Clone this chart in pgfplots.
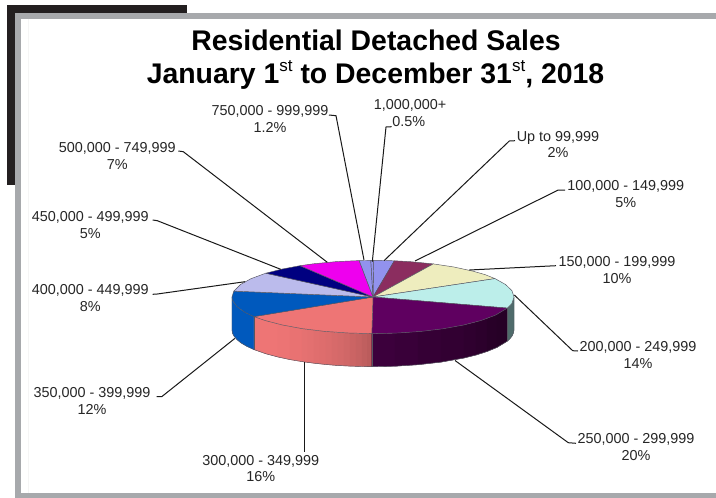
\documentclass[border=0pt]{standalone}
\usepackage{pgfplots}
\pgfplotsset{compat=1.18}
\usepackage{fontspec}
\setmainfont{Liberation Sans}
% slice colours, top faces
\definecolor{cLav}{HTML}{9292EE}
\definecolor{cMaroon}{HTML}{8B2D5F}
\definecolor{cCream}{HTML}{EEEDBE}
\definecolor{cAqua}{HTML}{BCEEEA}
\definecolor{cPlum}{HTML}{5F0060}
\definecolor{cSalmon}{HTML}{EE7575}
\definecolor{cBlue}{HTML}{0059BD}
\definecolor{cPeri}{HTML}{BBBBEC}
\definecolor{cNavy}{HTML}{000080}
\definecolor{cMagenta}{HTML}{EE00EE}
% side wall colours
\definecolor{cSalmonDark}{HTML}{B85B5B}
\definecolor{cPlumA}{HTML}{3C003C}
\definecolor{cPlumB}{HTML}{260026}
\definecolor{cTeal}{HTML}{4F6B6B}
% frame and text
\definecolor{cFrame}{HTML}{A7A9AC}
\definecolor{cBlock}{HTML}{231F20}
\definecolor{cText}{HTML}{262626}
\definecolor{cEdge}{HTML}{555560}
\begin{document}
\begin{tikzpicture}[
  lbl/.style={anchor=base,inner sep=0pt,text=cText,font=\fontsize{14.4bp}{17bp}\selectfont},
  ttl/.style={anchor=base,inner sep=0pt,text=black,font=\fontsize{28.4bp}{32bp}\selectfont\bfseries},
  top/.style={fill=#1,draw=cEdge,line width=0.45bp,line join=round},
  wall/.style={fill=#1,draw=#1,line width=0.3bp},
  leader/.style={draw=black!90,line width=1bp,line join=round}
]
\begin{axis}[
  width=716bp,height=498bp,scale only axis,
  xmin=0,xmax=716,ymin=0,ymax=498,y dir=reverse,
  hide axis,clip=false
]
% page background and frame
\fill[white] (axis cs:0,0) rectangle (axis cs:716,498);
\fill[cBlock] (axis cs:7,5) rectangle (axis cs:187,185);
\fill[white] (axis cs:15,13) rectangle (axis cs:716,498);
\fill[cFrame] (axis cs:15.3,13) rectangle (axis cs:716,18.7);
\fill[cFrame] (axis cs:15.3,13) rectangle (axis cs:20.7,498);
\fill[cFrame] (axis cs:15.3,493) rectangle (axis cs:716,498);
\draw[black!4,line width=0.6bp] (axis cs:28.3,19) -- (axis cs:28.3,493);

% side wall: 350,000 - 399,999
\addplot[wall=cBlue] coordinates {(232,297)(232.5,300.2)(234,303.1)(237,306.6)(241,309.9)(247,313.4)(254,316.6)(254,349.6)(247,346.4)(241,342.9)(237,339.6)(234,336.1)(232.5,333.2)(232,330)} --cycle;
% side wall: 300,000 - 349,999, darkening to the right
\addplot[wall=cSalmon] coordinates {(254,316.6)(266,320.8)(266,353.8)(254,349.6)} --cycle;
\addplot[wall=cSalmon] coordinates {(266,320.8)(278,324.0)(278,357.0)(266,353.8)} --cycle;
\addplot[wall=cSalmon!96!cSalmonDark] coordinates {(278,324.0)(290,326.6)(290,359.6)(278,357.0)} --cycle;
\addplot[wall=cSalmon!90!cSalmonDark] coordinates {(290,326.6)(302,328.6)(302,361.6)(290,359.6)} --cycle;
\addplot[wall=cSalmon!84!cSalmonDark] coordinates {(302,328.6)(308,329.5)(308,362.5)(302,361.6)} --cycle;
\addplot[wall=cSalmon!80!cSalmonDark] coordinates {(308,329.5)(314,330.2)(314,363.2)(308,362.5)} --cycle;
\addplot[wall=cSalmon!75!cSalmonDark] coordinates {(314,330.2)(320,330.9)(320,363.9)(314,363.2)} --cycle;
\addplot[wall=cSalmon!70!cSalmonDark] coordinates {(320,330.9)(326,331.5)(326,364.5)(320,363.9)} --cycle;
\addplot[wall=cSalmon!64!cSalmonDark] coordinates {(326,331.5)(332,332.0)(332,365.0)(326,364.5)} --cycle;
\addplot[wall=cSalmon!58!cSalmonDark] coordinates {(332,332.0)(338,332.5)(338,365.5)(332,365.0)} --cycle;
\addplot[wall=cSalmon!52!cSalmonDark] coordinates {(338,332.5)(344,332.8)(344,365.8)(338,365.5)} --cycle;
\addplot[wall=cSalmon!45!cSalmonDark] coordinates {(344,332.8)(350,333.1)(350,366.1)(344,365.8)} --cycle;
\addplot[wall=cSalmon!36!cSalmonDark] coordinates {(350,333.1)(356,333.3)(356,366.3)(350,366.1)} --cycle;
\addplot[wall=cSalmon!26!cSalmonDark] coordinates {(356,333.3)(362,333.5)(362,366.5)(356,366.3)} --cycle;
\addplot[wall=cSalmon!15!cSalmonDark] coordinates {(362,333.5)(367,333.6)(367,366.6)(362,366.5)} --cycle;
\addplot[wall=cSalmon!5!cSalmonDark] coordinates {(367,333.6)(371.8,333.6)(371.8,366.6)(367,366.6)} --cycle;
% side wall: 250,000 - 299,999, darkening to the right
\addplot[wall=cPlumA] coordinates {(371.8,333.6)(395,333.2)(395,366.2)(371.8,366.6)} --cycle;
\addplot[wall=cPlumA!85!cPlumB] coordinates {(395,333.2)(418,331.7)(418,364.7)(395,366.2)} --cycle;
\addplot[wall=cPlumA!70!cPlumB] coordinates {(418,331.7)(441,329.1)(441,362.1)(418,364.7)} --cycle;
\addplot[wall=cPlumA!55!cPlumB] coordinates {(441,329.1)(464,325.0)(464,358.0)(441,362.1)} --cycle;
\addplot[wall=cPlumA!40!cPlumB] coordinates {(464,325.0)(476,322.0)(476,355.0)(464,358.0)} --cycle;
\addplot[wall=cPlumA!25!cPlumB] coordinates {(476,322.0)(487,318.5)(487,351.5)(476,355.0)} --cycle;
\addplot[wall=cPlumA!10!cPlumB] coordinates {(487,318.5)(497,314.4)(497,347.4)(487,351.5)} --cycle;
\addplot[wall=cPlumB] coordinates {(497,314.4)(507.4,308.1)(507.4,341.1)(497,347.4)} --cycle;
% side wall: 200,000 - 249,999
\addplot[wall=cTeal] coordinates {(507.4,308.1)(510,305.6)(512,303.1)(513.4,300)(514,297)(514,330)(513.4,333)(512,336.1)(510,338.6)(507.4,341.1)} --cycle;
% wall outline and seams
\addplot[draw=cEdge,line width=0.45bp] coordinates {(232,297)(232,330)(232.5,333.2)(234,336.1)(237,339.6)(241,342.9)(247,346.4)(254,349.6)(266,353.8)(278,357.0)(290,359.6)(302,361.6)(314,363.2)(326,364.5)(338,365.5)(350,366.1)(362,366.5)(371.8,366.6)(395,366.2)(418,364.7)(441,362.1)(464,358.0)(476,355.0)(487,351.5)(497,347.4)(507.4,341.1)(510,338.6)(512,336.1)(513.4,333)(514,330)(514,297)};
\addplot[draw=cEdge,line width=0.45bp] coordinates {(254,316.6)(254,349.6)};
\addplot[draw=cEdge,line width=0.45bp] coordinates {(371.8,333.6)(371.8,366.6)};
\addplot[draw=cEdge,line width=0.45bp] coordinates {(507.4,308.1)(507.4,341.1)};

% top faces, clockwise from twelve o'clock
\addplot[top=cLav] coordinates {(373,297)(373.7,260.4)(385.3,260.5)(394.3,260.8)} --cycle; % Up to 99,999
\addplot[top=cMaroon] coordinates {(373,297)(394.3,260.8)(409.5,261.6)(420,262.6)(433.3,263.9)} --cycle; % 100,000 - 149,999
\addplot[top=cCream] coordinates {(373,297)(433.3,263.9)(453.9,267.0)(472.7,271.1)(485,274.6)(495,278.6)} --cycle; % 150,000 - 199,999
\addplot[top=cAqua] coordinates {(373,297)(495,278.6)(505.5,284.5)(511.9,290.6)(514,297)(511.9,303.4)(507.4,308.1)} --cycle; % 200,000 - 249,999
\addplot[top=cPlum] coordinates {(373,297)(507.4,308.1)(495.1,315.3)(481,320.5)(463.6,325.0)(443.5,328.7)(421.2,331.4)(397.5,333.0)(371.8,333.6)} --cycle; % 250,000 - 299,999
\addplot[top=cSalmon] coordinates {(373,297)(371.8,333.6)(348.5,333.0)(324.8,331.4)(302.5,328.7)(282.4,325.0)(265,320.5)(253.9,316.6)} --cycle; % 300,000 - 349,999
\addplot[top=cBlue] coordinates {(373,297)(253.9,316.6)(245.2,312.5)(236.8,306.5)(232.5,300.2)(232,297)(233.8,291.1)} --cycle; % 350,000 - 399,999
\addplot[top=cPeri] coordinates {(373,297)(233.8,291.1)(240.5,284.5)(250.9,278.7)(265.8,273.2)} --cycle; % 400,000 - 449,999
\addplot[top=cNavy] coordinates {(373,297)(265.8,273.2)(282.4,269.0)(300,265.7)} --cycle; % 450,000 - 499,999
\addplot[top=cMagenta] coordinates {(373,297)(300,265.7)(313.4,263.8)(336.5,261.6)(359.2,260.6)} --cycle; % 500,000 - 749,999
\addplot[top=cLav] coordinates {(373,297)(359.2,260.6)(370.8,260.4)} --cycle; % 750,000 - 999,999
\addplot[top=cLav] coordinates {(373,297)(370.8,260.4)(373.7,260.4)} --cycle; % 1,000,000+

% leader lines
\addplot[leader] coordinates {(515,140.7)(509.3,141)(384,260.7)};
\addplot[leader] coordinates {(565,190)(558.3,190)(415,261)};
\addplot[leader] coordinates {(556,265.7)(469.3,270)};
\addplot[leader] coordinates {(578,351)(572.7,350.7)(514.3,295)};
\addplot[leader] coordinates {(576,443.3)(568.3,442.7)(455,360.5)};
\addplot[leader] coordinates {(304.3,362.3)(304.3,451.7)};
\addplot[leader] coordinates {(156.7,396.7)(161.7,396.7)(235,338.3)};
\addplot[leader] coordinates {(152.7,294.3)(157.3,294)(245,281.7)};
\addplot[leader] coordinates {(152.7,220)(157.3,220.7)(280.7,269.3)};
\addplot[leader] coordinates {(178.3,151)(183.3,151.7)(327.3,262.3)};
\addplot[leader] coordinates {(329,115)(336,115.7)(364,260)};
\addplot[leader] coordinates {(391.7,126.7)(386,127)(372.3,261.7)};

% title
\node[ttl] at (axis cs:376,51) {Residential Detached Sales};
\node[ttl] at (axis cs:375.5,83.3) {January 1\raisebox{0.42em}{\fontsize{17bp}{17bp}\selectfont\mdseries st} to December 31\raisebox{0.42em}{\fontsize{17bp}{17bp}\selectfont\mdseries st}, 2018};

% slice labels
\node[lbl] at (axis cs:558,141) {Up to 99,999};
\node[lbl] at (axis cs:558,157.7) {2\%};
\node[lbl] at (axis cs:625.7,190) {100,000 - 149,999};
\node[lbl] at (axis cs:625.7,207) {5\%};
\node[lbl] at (axis cs:617,266) {150,000 - 199,999};
\node[lbl] at (axis cs:617,283) {10\%};
\node[lbl] at (axis cs:638,351) {200,000 - 249,999};
\node[lbl] at (axis cs:638,368) {14\%};
\node[lbl] at (axis cs:636,443) {250,000 - 299,999};
\node[lbl] at (axis cs:636,460) {20\%};
\node[lbl] at (axis cs:260.7,465) {300,000 - 349,999};
\node[lbl] at (axis cs:260.7,481.7) {16\%};
\node[lbl] at (axis cs:92,397.3) {350,000 - 399,999};
\node[lbl] at (axis cs:92,414) {12\%};
\node[lbl] at (axis cs:90.3,294.3) {400,000 - 449,999};
\node[lbl] at (axis cs:90.3,311) {8\%};
\node[lbl] at (axis cs:90.3,221) {450,000 - 499,999};
\node[lbl] at (axis cs:90.3,238) {5\%};
\node[lbl] at (axis cs:117.3,152) {500,000 - 749,999};
\node[lbl] at (axis cs:117.3,169) {7\%};
\node[lbl] at (axis cs:270,115.7) {750,000 - 999,999};
\node[lbl] at (axis cs:270,132.7) {1.2\%};
\node[lbl] at (axis cs:410,109.3) {1,000,000+};
\node[lbl] at (axis cs:408.7,126.7) {0.5\%};
\end{axis}
\end{tikzpicture}
\end{document}
